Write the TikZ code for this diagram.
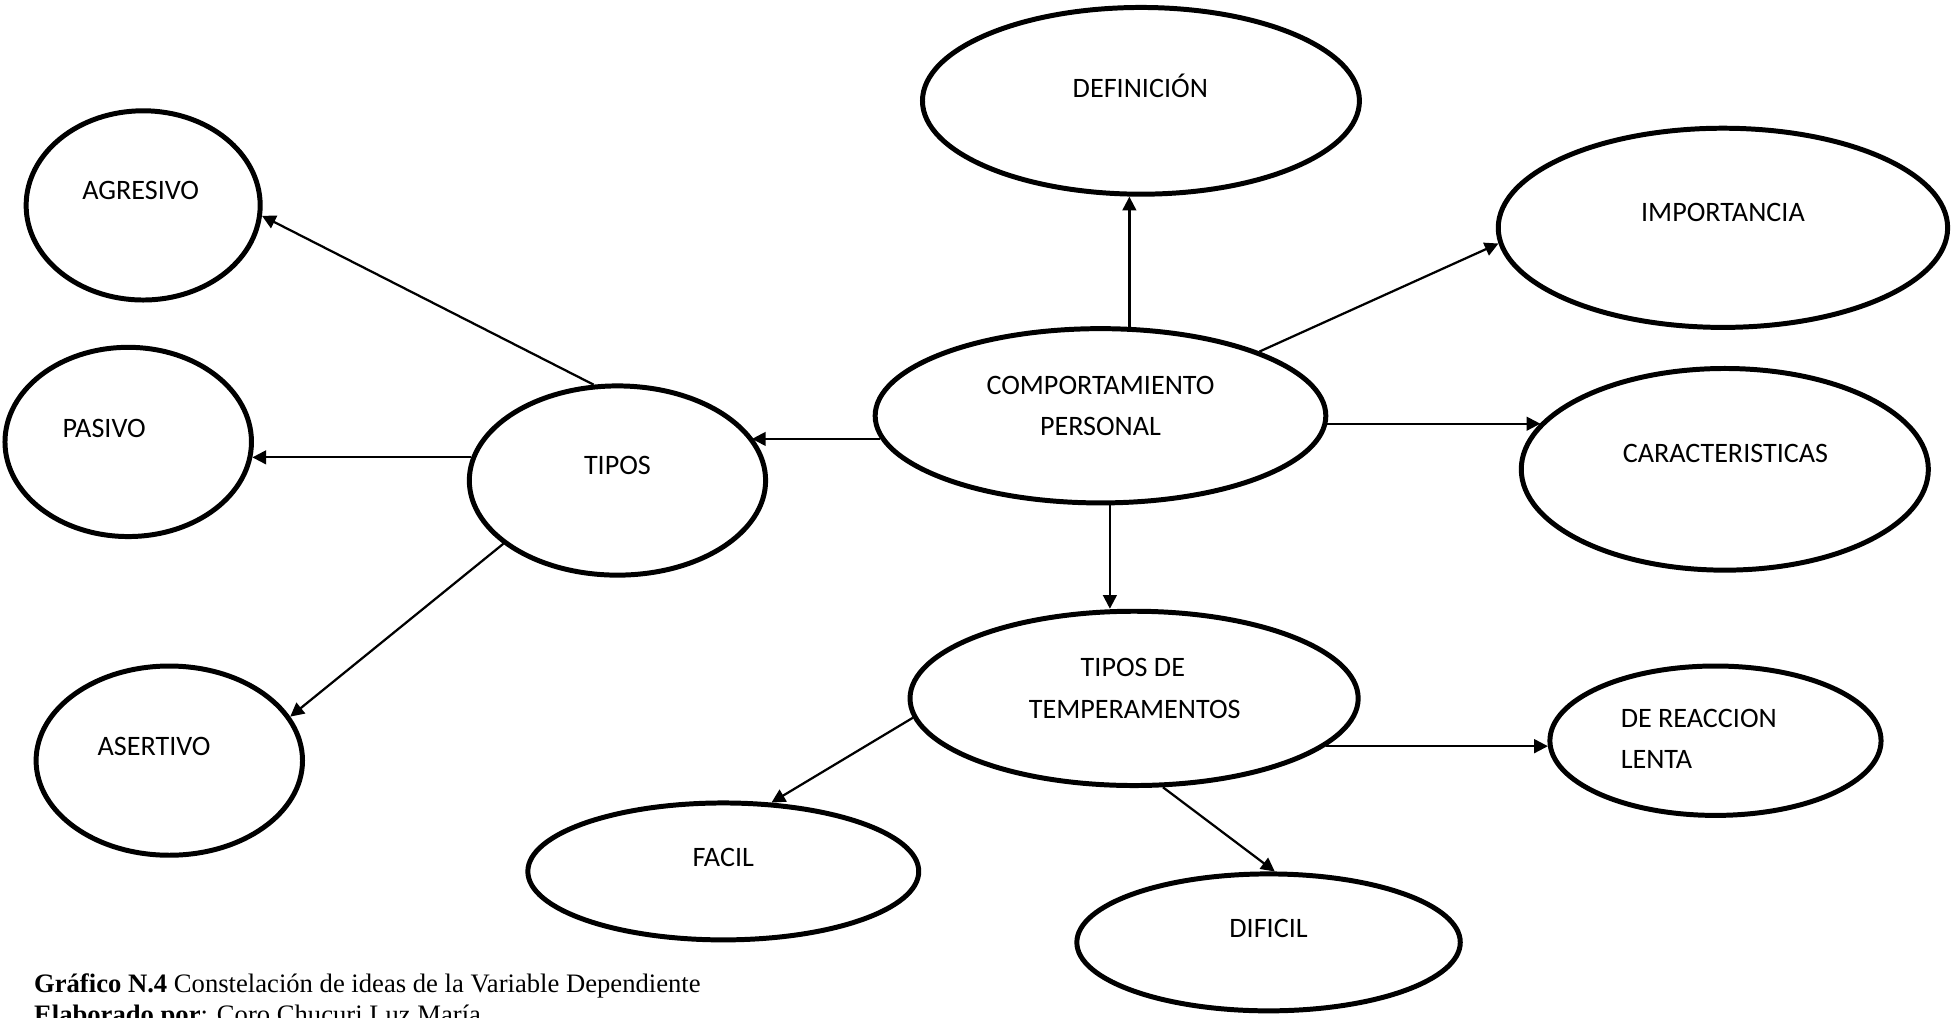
\documentclass[tikz,border=0pt]{standalone}
\usepackage{fontspec}
\setmainfont{Liberation Serif}
\newfontfamily\calib{Carlito}
\usetikzlibrary{shapes.geometric, arrows.meta}

\begin{document}
\begin{tikzpicture}[x=0.5pt, y=-0.5pt,
  bubble/.style={ellipse, draw, line width=2pt, inner sep=0pt},
  lbl/.style={font=\calib\fontsize{11.3}{13}\selectfont, inner sep=0pt, anchor=base},
  lbll/.style={lbl, anchor=base west},
  captxt/.style={font=\fontsize{10.7}{13}\selectfont, inner sep=0pt, anchor=base west},
  arr/.style={line width=0.9pt, -{Triangle[length=5.5pt,width=5.5pt]}}]

\useasboundingbox (0,0) rectangle (1568,817);

% ellipses
\node[bubble, minimum width=175.5pt, minimum height=75pt] (def) at (916.5,81) {};
\node[bubble, minimum width=180.5pt, minimum height=80pt] (imp) at (1384,183) {};
\node[bubble, minimum width=163.5pt, minimum height=81pt] (car) at (1385.5,377) {};
\node[bubble, minimum width=181pt, minimum height=70pt] (comp) at (884,334) {};
\node[bubble, minimum width=119pt, minimum height=76pt] (tipos) at (496,386) {};
\node[bubble, minimum width=94pt, minimum height=76pt] (agr) at (115,165) {};
\node[bubble, minimum width=99pt, minimum height=76pt] (pas) at (103,355) {};
\node[bubble, minimum width=107pt, minimum height=76pt] (ase) at (136,611) {};
\node[bubble, minimum width=180pt, minimum height=70pt] (temp) at (911,561) {};
\node[bubble, minimum width=133pt, minimum height=60pt] (reac) at (1378,595) {};
\node[bubble, minimum width=157pt, minimum height=55pt] (facil) at (581,700) {};
\node[bubble, minimum width=154pt, minimum height=55pt] (dif) at (1019,757) {};

% labels
\node[lbl] (defT) at (916,78) {DEFINICIÓN};
\node[lbl] (impT) at (1384,178) {IMPORTANCIA};
\node[lbl] (carT) at (1386,371.5) {CARACTERISTICAS};
\node[lbl] (compT1) at (884,316.5) {COMPORTAMIENTO};
\node[lbl] (compT2) at (884,349.5) {PERSONAL};
\node[lbl] (tiposT) at (496,381.5) {TIPOS};
\node[lbl] (agrT) at (113,160) {AGRESIVO};
\node[lbll] (pasT) at (50,351.5) {PASIVO};
\node[lbll] (aseT) at (78,607) {ASERTIVO};
\node[lbl] (tempT1) at (910,543.5) {TIPOS DE};
\node[lbl] (tempT2) at (911.5,577) {TEMPERAMENTOS};
\node[lbll] (reacT1) at (1301.5,584) {DE REACCION};
\node[lbll] (reacT2) at (1301.5,617) {LENTA};
\node[lbl] (facilT) at (581,696) {FACIL};
\node[lbl] (difT) at (1019,753) {DIFICIL};

% connectors
\draw[arr] (comp.72) -- (comp.72 |- def.south);
\draw[arr] (comp.22) -- (imp.184);
\draw[arr] (comp.-2) -- (comp.-2 -| car.166);
\draw[arr] (comp.186) -- (comp.186 -| tipos.18);
\draw[arr] (comp.-84) -- (comp.-84 |- temp.north);
\draw[arr] (tipos.104) -- (agr.-5);
\draw[arr] (tipos.171) -- (tipos.171 -| pas.-7);
\draw[arr] (tipos.209) -- (ase.20);
\draw[arr] (temp.-14) -- (temp.-14 -| reac.182);
\draw[arr] (temp.185) -- (facil.55);
\draw[arr] (temp.-72.5) -- (dif.85);

% caption
\node[captxt] (cap1) at (27,797) {\textbf{Gráfico N.4} Constelación de ideas de la Variable Dependiente};
\node[captxt] (cap2) at (27,822) {\textbf{Elaborado por}: Coro Chucuri Luz María};
\end{tikzpicture}
\end{document}
